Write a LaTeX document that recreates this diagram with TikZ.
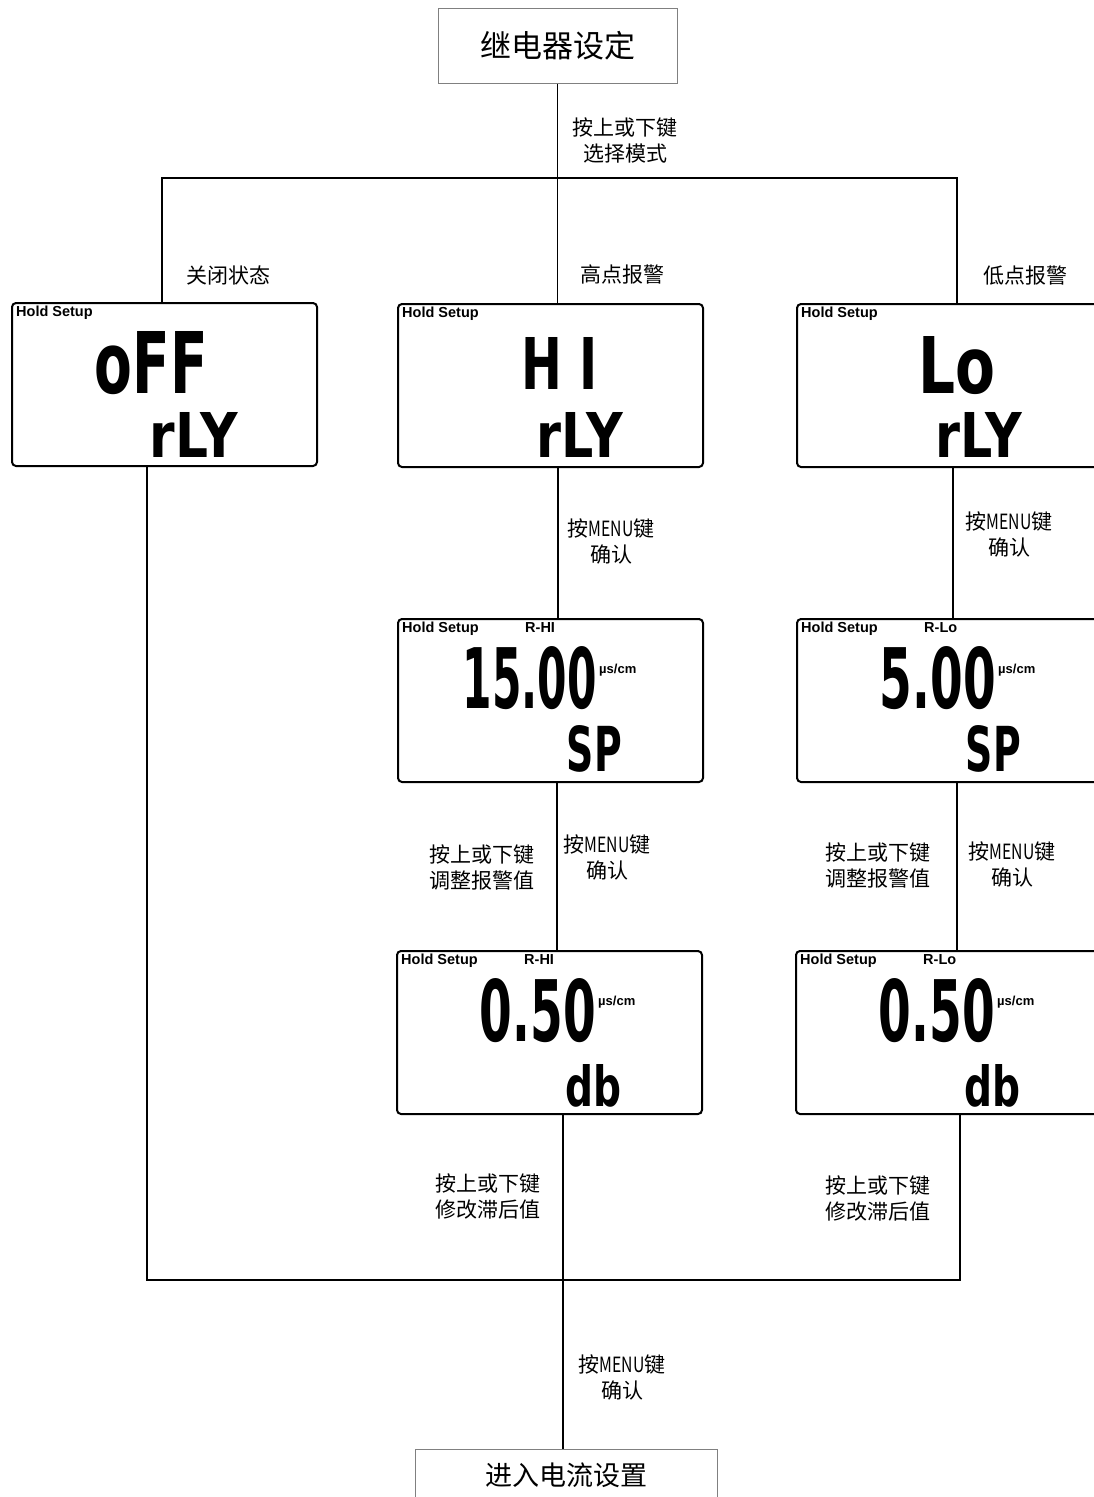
\documentclass[tikz,border=0pt]{standalone}
\usepackage{fontspec}
\usepackage{xcolor}
\usetikzlibrary{positioning,calc}
\newfontfamily\cjk{Noto Sans CJK SC}
\newfontfamily\segfont{DejaVu Sans}
\newfontfamily\tagfont{Liberation Sans}
\definecolor{boxgray}{HTML}{808080}
\newcommand{\seg}[3]{\resizebox{#1pt}{#2pt}{\segfont\bfseries #3}}
\newcommand{\menukey}{按\scalebox{0.75}[1]{MENU}键}

\begin{document}
\begin{tikzpicture}[
  x=1pt, y=-1pt,
  title_box/.style={draw=boxgray, line width=1pt, inner sep=0pt, align=center, font=\cjk\fontsize{31}{31}\selectfont},
  end_box/.style  ={draw=boxgray, line width=1pt, inner sep=0pt, align=center, font=\cjk\fontsize{27}{27}\selectfont},
  lcd_box/.style  ={draw=black, line width=2pt, rounded corners=4pt, minimum width=305pt, minimum height=163pt, inner sep=0pt, anchor=north west},
  seg_txt/.style  ={inner sep=0pt, anchor=south east},
  tag/.style      ={inner sep=0pt, anchor=north west, font=\tagfont\bfseries\fontsize{14.5}{14.5}\selectfont},
  unit/.style     ={inner sep=0pt, anchor=north west, font=\tagfont\bfseries\fontsize{13}{13}\selectfont},
  wire/.style     ={draw=black, line width=1.8pt},
  lbl/.style      ={inner sep=0pt, align=center, font=\cjk\fontsize{21}{26}\selectfont},
]
  \useasboundingbox (0,0) rectangle (1094,1497);

  % top and bottom boxes
  \node[title_box, minimum width=239pt, minimum height=75pt] (top) at (557.5,45.5) {继电器设定};
  \node[end_box, minimum width=302pt, minimum height=52pt]  (bot) at (566,1475)   {进入电流设置};

  % display panels
  \node[lcd_box] (off)  at (11,302)  {};
  \node[lcd_box] (hi)   at (397,303) {};
  \node[lcd_box] (lo)   at (796,303) {};
  \node[lcd_box] (hisp) at (397,618) {};
  \node[lcd_box] (losp) at (796,618) {};
  \node[lcd_box] (hidb) at (396,950) {};
  \node[lcd_box] (lodb) at (795,950) {};

  \foreach \b in {off,hi,lo,hisp,losp,hidb,lodb}
    \node[tag] (\b-tag) at ([shift={(5,4)}]\b.north west) {Hold Setup};
  \foreach \b/\t in {hisp/R-HI,hidb/R-HI,losp/R-Lo,lodb/R-Lo}
    \node[tag] (\b-mode) at ([shift={(128,4)}]\b.north west) {\t};
  \foreach \b in {hisp,losp,hidb,lodb}
    \node[unit] (\b-unit) at ([shift={(202,46)}]\b.north west) {µs/cm};

  \node[seg_txt] (off-main)  at ([shift={(197,93)}]off.north west)  {\seg{113}{62}{oFF}};
  \node[seg_txt] (off-sub)   at ([shift={(227,156)}]off.north west) {\seg{88}{45}{rLY}};
  \node[seg_txt] (hi-main)   at ([shift={(201,87)}]hi.north west)   {\seg{76}{52}{H I}};
  \node[seg_txt] (hi-sub)    at ([shift={(226,155)}]hi.north west)  {\seg{86}{45}{rLY}};
  \node[seg_txt] (lo-main)   at ([shift={(200,92)}]lo.north west)   {\seg{77}{57}{Lo}};
  \node[seg_txt] (lo-sub)    at ([shift={(226,155)}]lo.north west)  {\seg{86}{45}{rLY}};
  \node[seg_txt] (hisp-main) at ([shift={(200,92)}]hisp.north west) {\seg{134}{62}{15.00}};
  \node[seg_txt] (hisp-sub)  at ([shift={(225,155)}]hisp.north west){\seg{55}{46}{SP}};
  \node[seg_txt] (losp-main) at ([shift={(200,92)}]losp.north west) {\seg{116}{62}{5.00}};
  \node[seg_txt] (losp-sub)  at ([shift={(225,155)}]losp.north west){\seg{55}{46}{SP}};
  \node[seg_txt] (hidb-main) at ([shift={(200,93)}]hidb.north west) {\seg{116}{63}{0.50}};
  \node[seg_txt] (hidb-sub)  at ([shift={(226,157)}]hidb.north west){\seg{56}{42}{db}};
  \node[seg_txt] (lodb-main) at ([shift={(200,93)}]lodb.north west) {\seg{116}{63}{0.50}};
  \node[seg_txt] (lodb-sub)  at ([shift={(226,157)}]lodb.north west){\seg{56}{42}{db}};

  % connectors
  \coordinate (split_l) at (162,178);
  \coordinate (split_r) at (957,178);
  \coordinate (bus_l)   at (147,1280);
  \coordinate (bus_m)   at (563,1280);
  \coordinate (bus_r)   at (960,1280);
  \coordinate (hi_a)    at (558,540);
  \coordinate (hi_b)    at (557,860);
  \coordinate (lo_a)    at (953,540);
  \coordinate (lo_b)    at (957,860);

  \draw[wire] (top.south) -- (top.south |- hi.north);
  \draw[wire] (off.north -| split_l) -- (split_l) -- (split_r) -- (split_r |- lo.north);
  \draw[wire] (hi.south -| hi_a)   -- (hisp.north -| hi_a);
  \draw[wire] (hisp.south -| hi_b) -- (hidb.north -| hi_b);
  \draw[wire] (lo.south -| lo_a)   -- (losp.north -| lo_a);
  \draw[wire] (losp.south -| lo_b) -- (lodb.north -| lo_b);
  \draw[wire] (off.south -| bus_l) -- (bus_l) -- (bus_r) -- (bus_r |- lodb.south);
  \draw[wire] (hidb.south -| bus_m) -- (bot.north -| bus_m);

  % labels
  \node[lbl] (l-sel)    at (625,140)  {按上或下键\\选择模式};
  \node[lbl] (l-off)    at (228,275)  {关闭状态};
  \node[lbl] (l-hi)     at (622,275)  {高点报警};
  \node[lbl] (l-lo)     at (1025,276) {低点报警};
  \node[lbl] (l-hiok)   at (611,541)  {\menukey\\确认};
  \node[lbl] (l-look)   at (1009,534) {\menukey\\确认};
  \node[lbl] (l-hiadj)  at (482,867)  {按上或下键\\调整报警值};
  \node[lbl] (l-hiok2)  at (607,857)  {\menukey\\确认};
  \node[lbl] (l-loadj)  at (878,865)  {按上或下键\\调整报警值};
  \node[lbl] (l-look2)  at (1012,864) {\menukey\\确认};
  \node[lbl] (l-hidb)   at (488,1196) {按上或下键\\修改滞后值};
  \node[lbl] (l-lodb)   at (878,1198) {按上或下键\\修改滞后值};
  \node[lbl] (l-end)    at (622,1377) {\menukey\\确认};
\end{tikzpicture}
\end{document}
